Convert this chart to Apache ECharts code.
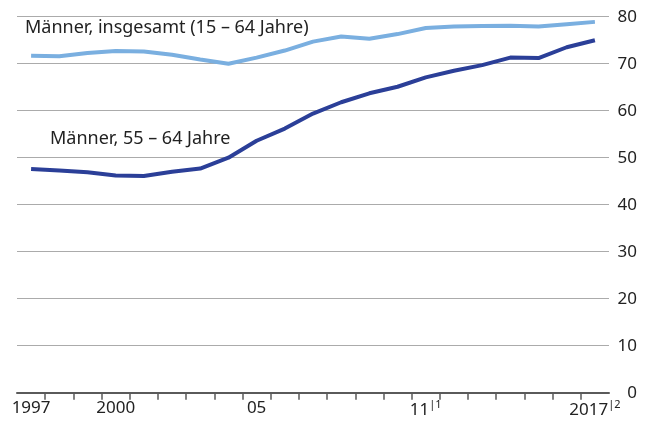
<!DOCTYPE html>
<html>
<head>
<meta charset="utf-8">
<script src="https://cdn.jsdelivr.net/npm/echarts@6/dist/echarts.min.js"></script>
<style>html,body{margin:0;padding:0;background:#fff}#c{width:648px;height:421px}</style>
</head>
<body>
<div id="c"></div>
<script>
var years = ['1997','1998','1999','2000','2001','2002','2003','2004','2005','2006','2007','2008','2009','2010','2011','2012','2013','2014','2015','2016','2017'];
var yearLabels = {'1997':'1997','2000':'2000','2005':'05','2011':'{a|11}{s||1}','2017':'{a|2017}{s||2}'};
var seriesTotalName = 'Männer, insgesamt (15 – 64 Jahre)';
var seriesOlderName = 'Männer, 55 – 64 Jahre';
var totalValues = [71.7,71.6,72.3,72.7,72.6,71.9,70.9,70.0,71.3,72.8,74.7,75.8,75.3,76.3,77.6,77.9,78.0,78.1,77.9,78.4,78.9];
var olderValues = [47.6,47.3,46.9,46.2,46.1,47.0,47.7,50.0,53.6,56.2,59.4,61.8,63.7,65.1,67.1,68.5,69.7,71.3,71.2,73.5,75.0];
var yTicks = {min:0, max:80, interval:10};

var FONT = 'Noto Sans';
var L = 17, R = 39, T = 16.7, B = 28.3;
var plotW = 648 - L - R;
var step = plotW / years.length;
var chart = echarts.init(document.getElementById('c'), null, {renderer:'canvas'});
chart.setOption({
  animation: false,
  textStyle: {fontFamily: FONT},
  grid: [
    {left: L, right: R, top: T, bottom: B, containLabel: false},
    {left: L + step, right: R + step, top: T, bottom: B, containLabel: false}
  ],
  xAxis: [
    {
      type: 'category', data: years, gridIndex: 0, boundaryGap: true,
      axisLine: {lineStyle: {color: '#5a5a5a', width: 2}},
      axisTick: {show: false},
      axisLabel: {
        interval: 0, margin: 7, color: '#222', fontSize: 17, fontFamily: FONT,
        formatter: function (v) { return yearLabels[v] || ''; },
        rich: {
          a: {fontSize: 17, color: '#222', fontFamily: FONT, lineHeight: 20},
          s: {fontSize: 11, color: '#222', fontFamily: FONT, verticalAlign: 'top', padding: [0,0,8,0]}
        }
      },
      splitLine: {show: false}
    },
    {
      type: 'category', data: years.slice(0, years.length - 1), gridIndex: 1, boundaryGap: false,
      axisLine: {show: false},
      axisTick: {show: true, interval: 0, length: 7, lineStyle: {color: '#5a5a5a', width: 1.5}},
      axisLabel: {show: false},
      splitLine: {show: false}
    }
  ],
  yAxis: [
    {
      type: 'value', gridIndex: 0, position: 'right', min: yTicks.min, max: yTicks.max, interval: yTicks.interval,
      axisLine: {show: false}, axisTick: {show: false},
      axisLabel: {margin: 28, align: 'right', color: '#222', fontSize: 17, fontFamily: FONT},
      splitLine: {lineStyle: {color: '#ababab', width: 1}}
    },
    {
      type: 'value', gridIndex: 1, min: 0, max: 80, show: false
    }
  ],
  series: [
    {
      name: seriesTotalName, type: 'line', data: totalValues, xAxisIndex: 0, yAxisIndex: 0,
      symbol: 'none', lineStyle: {color: '#7aafe0', width: 4}, z: 3
    },
    {
      name: seriesOlderName, type: 'line', data: olderValues, xAxisIndex: 0, yAxisIndex: 0,
      symbol: 'none', lineStyle: {color: '#2b3f98', width: 4}, z: 4
    }
  ],
  graphic: [
    {type: 'text', x: 25, y: 28, style: {text: seriesTotalName, fontSize: 18, fontFamily: FONT, fill: '#222', verticalAlign: 'middle'}},
    {type: 'text', x: 50, y: 139, style: {text: seriesOlderName, fontSize: 18, fontFamily: FONT, fill: '#222', verticalAlign: 'middle'}}
  ]
});
</script>
</body>
</html>
